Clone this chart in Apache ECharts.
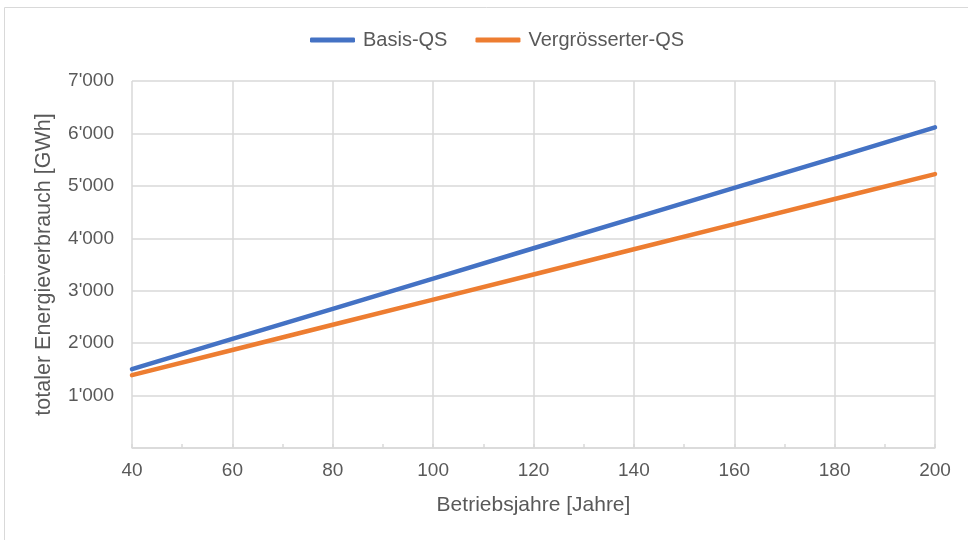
<!DOCTYPE html>
<html>
<head>
<meta charset="utf-8">
<script src="https://cdn.jsdelivr.net/npm/echarts@6/dist/echarts.min.js"></script>
<style>html,body{margin:0;padding:0;background:#fff}#c{width:968px;height:540px}</style>
</head>
<body>
<div id="c"></div>
<script>
const years = [40, 60, 80, 100, 120, 140, 160, 180, 200];
const basisQS = [1505, 2080, 2655, 3230, 3810, 4385, 4960, 5535, 6115];
const vergQS = [1390, 1870, 2350, 2830, 3310, 3790, 4270, 4750, 5225];
const seriesNames = ['Basis-QS', 'Vergrösserter-QS'];
const xTitle = 'Betriebsjahre [Jahre]';
const yTitle = 'totaler Energieverbrauch [GWh]';

const font = '"Liberation Sans", Arial, sans-serif';
const txt = '#595959';
const gridC = '#d9d9d9';
function fmt(v) {
  if (v === 0) return '';
  const s = String(Math.round(v));
  return s.replace(/\B(?=(\d{3})+(?!\d))/g, "'");
}
const chart = echarts.init(document.getElementById('c'), null, {renderer: 'canvas'});
chart.setOption({
  animation: false,
  textStyle: {fontFamily: font},
  graphic: [{type: 'rect', shape: {x: 4.5, y: 7.5, width: 980, height: 560}, style: {fill: 'none', stroke: '#d9d9d9', lineWidth: 1}, silent: true}],
  legend: {
    top: 25, left: 305, itemWidth: 45, itemHeight: 5, itemGap: 28,
    icon: 'roundRect',
    textStyle: {fontSize: 20, color: txt, fontFamily: font, padding: [0, 0, 0, 3]},
    data: seriesNames
  },
  grid: {left: 132, right: 33, top: 81, bottom: 92},
  xAxis: {
    type: 'value', min: 40, max: 200, interval: 20,
    name: xTitle, nameLocation: 'middle', nameGap: 47,
    nameTextStyle: {fontSize: 21, color: txt, fontFamily: font},
    axisLine: {show: true, lineStyle: {color: gridC, width: 1.5}},
    axisTick: {show: true, inside: true, length: 4, lineStyle: {color: gridC, width: 1.5}},
    minorTick: {show: true, splitNumber: 2, length: 4, lineStyle: {color: gridC, width: 1.5}},
    axisLabel: {fontSize: 19, color: txt, margin: 13, fontFamily: font},
    splitLine: {show: true, lineStyle: {color: gridC, width: 1.5}}
  },
  yAxis: {
    type: 'value', min: 0, max: 7000, interval: 1000,
    name: yTitle, nameLocation: 'middle', nameGap: 77, nameRotate: 90,
    nameTextStyle: {fontSize: 21.5, color: txt, fontFamily: font},
    axisLine: {show: false}, axisTick: {show: false},
    axisLabel: {fontSize: 19, color: txt, margin: 18, formatter: fmt, fontFamily: font},
    splitLine: {show: true, lineStyle: {color: gridC, width: 1.5}}
  },
  series: [
    {name: seriesNames[0], type: 'line', data: years.map((x, i) => [x, basisQS[i]]), showSymbol: false, symbol: 'none',
     lineStyle: {color: '#4472C4', width: 4.5, cap: 'round'}, itemStyle: {color: '#4472C4'}},
    {name: seriesNames[1], type: 'line', data: years.map((x, i) => [x, vergQS[i]]), showSymbol: false, symbol: 'none',
     lineStyle: {color: '#ED7D31', width: 4.5, cap: 'round'}, itemStyle: {color: '#ED7D31'}}
  ]
});
</script>
</body>
</html>
